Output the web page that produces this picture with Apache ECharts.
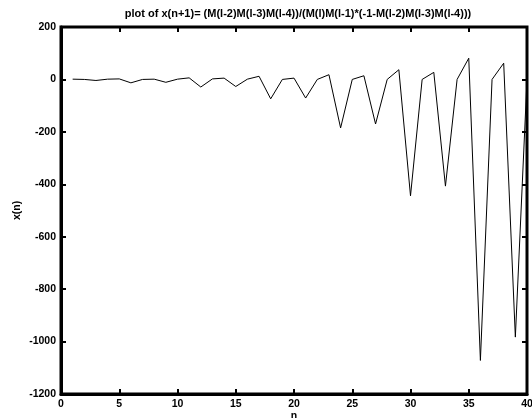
<!DOCTYPE html>
<html lang="en">
<head>
    <meta charset="UTF-8">
    <title>plot of x(n+1)</title>
    <script src="https://cdn.jsdelivr.net/npm/echarts@6/dist/echarts.min.js"></script>
    <style>
        body { margin: 0; background: #fff; }
    </style>
</head>
<body>
    <div id="main" style="width: 532px;height:418px;"></div>
    <script type="text/javascript">
        // n = 1..40
        var nValues = [1, 2, 3, 4, 5, 6, 7, 8, 9, 10,
            11, 12, 13, 14, 15, 16, 17, 18, 19, 20,
            21, 22, 23, 24, 25, 26, 27, 28, 29, 30,
            31, 32, 33, 34, 35, 36, 37, 38, 39, 40];
        // x(n)
        var xValues = [1, 0, -4, 1, 2, -13, 0, 1, -11, 1,
            6, -29, 2, 5, -27, 1, 12, -74, 0, 5,
            -71, 0, 18, -185, 0, 14, -170, 0, 37, -444,
            0, 27, -407, 0, 81, -1072, 0, 62, -983, 0];
        var xTicks = [0, 5, 10, 15, 20, 25, 30, 35, 40];
        var yTicks = [-1200, -1000, -800, -600, -400, -200, 0, 200];

        var points = [];
        for (var i = 0; i < nValues.length; i++) {
            points.push([nValues[i], xValues[i]]);
        }

        var font = 'Liberation Sans, Arial, sans-serif';
        var labelStyle = { color: '#000', fontFamily: font, fontWeight: 'bold', fontSize: 10.5 };
        var tickStyle = { show: true, inside: true, length: 5, lineStyle: { color: '#000', width: 2 } };
        var plain = function (v) { return String(v); };

        var myChart = echarts.init(document.getElementById('main'));
        var option = {
            animation: false,
            title: {
                text: 'plot of x(n+1)= (M(l-2)M(l-3)M(l-4))/(M(l)M(l-1)*(-1-M(l-2)M(l-3)M(l-4)))',
                left: 293,
                textAlign: 'center',
                top: 3,
                textStyle: { color: '#000', fontFamily: font, fontWeight: 'bold', fontSize: 11 }
            },
            grid: {
                left: 61, right: 5, top: 27, bottom: 24,
                outerBoundsMode: 'none',
                show: true, borderColor: '#000', borderWidth: 3
            },
            xAxis: [{
                type: 'value', min: xTicks[0], max: xTicks[xTicks.length - 1], interval: 5,
                name: 'n', nameLocation: 'middle', nameGap: 17, nameMoveOverlap: false,
                nameTextStyle: labelStyle,
                axisLine: { show: true, onZero: false, lineStyle: { color: '#000', width: 3 } },
                axisTick: tickStyle,
                axisLabel: Object.assign({ margin: 5, formatter: plain }, labelStyle),
                splitLine: { show: false }
            }, {
                type: 'value', min: xTicks[0], max: xTicks[xTicks.length - 1], interval: 5, position: 'top',
                axisLine: { show: false, onZero: false },
                axisTick: tickStyle,
                axisLabel: { show: false },
                splitLine: { show: false }
            }],
            yAxis: [{
                type: 'value', min: yTicks[0], max: yTicks[yTicks.length - 1], interval: 200,
                name: 'x(n)', nameLocation: 'middle', nameGap: 38, nameMoveOverlap: false,
                nameTextStyle: labelStyle,
                axisLine: { show: true, onZero: false, lineStyle: { color: '#000', width: 3 } },
                axisTick: tickStyle,
                axisLabel: Object.assign({ margin: 5, formatter: plain }, labelStyle),
                splitLine: { show: false }
            }, {
                type: 'value', min: yTicks[0], max: yTicks[yTicks.length - 1], interval: 200, position: 'right',
                axisLine: { show: false, onZero: false },
                axisTick: tickStyle,
                axisLabel: { show: false },
                splitLine: { show: false }
            }],
            series: [{
                type: 'line',
                data: points,
                xAxisIndex: 0,
                yAxisIndex: 0,
                showSymbol: false,
                clip: true,
                lineStyle: { color: '#000', width: 1 }
            }]
        };
        myChart.setOption(option);
    </script>
</body>
</html>
